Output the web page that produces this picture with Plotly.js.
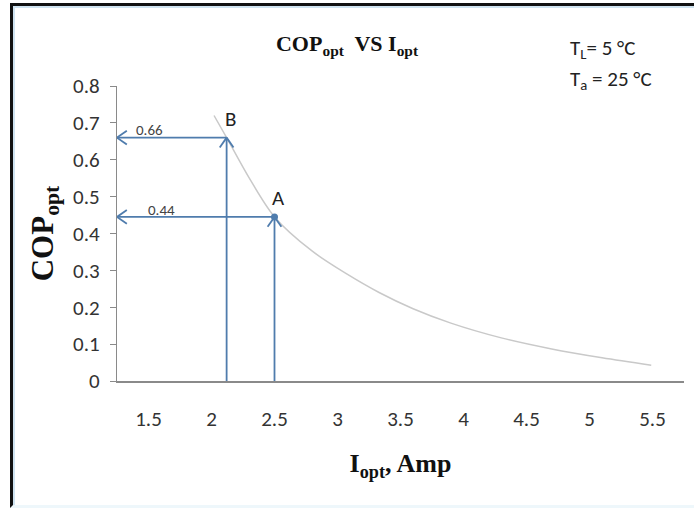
<!DOCTYPE html>
<html>
<head>
<meta charset="utf-8">
<script src="https://cdn.plot.ly/plotly-3.0.1.min.js"></script>
<style>
  html, body { margin: 0; padding: 0; background: #fff; }
  #wrap { position: relative; width: 694px; height: 508px; overflow: hidden; }
  #chart { position: absolute; left: 0; top: 0; width: 694px; height: 508px; }
  #frame { position: absolute; left: 10px; top: 3px; width: 684px; height: 499px;
           border-left: 3px solid #111; border-top: 3px solid #111;
           border-bottom: 3px solid #eef7fb;
           box-shadow: inset 2px 2px 0 #cfe3f0; pointer-events: none; }
</style>
</head>
<body>
<div id="wrap">
  <div id="chart"></div>
  <div id="frame"></div>
</div>
<script>
// ---- data ----
var currentAmp = [2.02, 2.12, 2.3, 2.5, 2.8, 3.07, 3.33, 3.6, 3.9, 4.3, 4.7, 5.1, 5.49];
var copOpt     = [0.72, 0.66, 0.55, 0.445, 0.352, 0.291, 0.240, 0.196, 0.157, 0.117, 0.087, 0.063, 0.043];
var xTickVals  = [1.5, 2, 2.5, 3, 3.5, 4, 4.5, 5, 5.5];
var xTickText  = ['1.5', '2', '2.5', '3', '3.5', '4', '4.5', '5', '5.5'];
var yTickVals  = [0, 0.1, 0.2, 0.3, 0.4, 0.5, 0.6, 0.7, 0.8];
var yTickText  = ['0', '0.1', '0.2', '0.3', '0.4', '0.5', '0.6', '0.7', '0.8'];
var pointNames = ['A', 'B'];
var pointX     = [2.5, 2.12];
var pointY     = [0.445, 0.66];
var pointLabel = ['0.44', '0.66'];

var xMin = 1.25, xMax = 5.75, yMin = 0, yMax = 0.8;
var W = 694, H = 508, M = { l: 117, r: 10, t: 86, b: 127 };
var plotW = W - M.l - M.r, plotH = H - M.t - M.b;
var pxX = plotW / (xMax - xMin), pxY = plotH / (yMax - yMin);

var arrowColor = '#4f7cad';
var sansFont = "Carlito, 'Liberation Sans Narrow', 'Liberation Sans', sans-serif";
var serifFont = "'Liberation Serif', 'Times New Roman', serif";

// shafts and V-shaped heads of the arrows, built from the point data
var shaftX = [], shaftY = [], headX = [], headY = [];
var armLen = 12, ang = 35 * Math.PI / 180;
function addHead(hx, hy, bx, by) {
  for (var s = -1; s <= 1; s += 2) {
    var c = Math.cos(s * ang), sn = Math.sin(s * ang);
    var rx = (bx * c - by * sn) * armLen, ry = (bx * sn + by * c) * armLen;
    headX.push(hx + rx / pxX, hx, null);
    headY.push(hy + ry / pxY, hy, null);
  }
}
for (var i = 0; i < pointNames.length; i++) {
  shaftX.push(pointX[i], xMin, null);
  shaftY.push(pointY[i], pointY[i], null);
  addHead(xMin, pointY[i], 1, 0);
  shaftX.push(pointX[i], pointX[i], null);
  shaftY.push(i === 1 ? -0.022 : 0, pointY[i], null);
  addHead(pointX[i], pointY[i], 0, -1);
}

var traces = [
  {
    x: currentAmp, y: copOpt, type: 'scatter', mode: 'lines',
    line: { color: '#c9c9c9', width: 1.5, shape: 'spline', smoothing: 0.9 },
    hoverinfo: 'skip', showlegend: false
  },
  {
    x: shaftX, y: shaftY, type: 'scatter', mode: 'lines', cliponaxis: false,
    line: { color: arrowColor, width: 1.8 }, hoverinfo: 'skip', showlegend: false
  },
  {
    x: headX, y: headY, type: 'scatter', mode: 'lines', cliponaxis: false,
    line: { color: arrowColor, width: 1.8 }, hoverinfo: 'skip', showlegend: false
  },
  {
    x: [pointX[0]], y: [pointY[0]], type: 'scatter', mode: 'markers',
    marker: { color: arrowColor, size: 7 },
    hoverinfo: 'skip', showlegend: false
  }
];

var annotations = [];
for (var j = 0; j < pointNames.length; j++) {
  annotations.push({
    x: pointX[j] + 0.03, y: pointY[j] + 0.05, xref: 'x', yref: 'y',
    text: pointNames[j], showarrow: false,
    font: { family: sansFont, size: 21, color: '#222' }
  });
  annotations.push({
    x: xMin + (j === 0 ? 0.35 : 0.26), y: pointY[j] + 0.02, xref: 'x', yref: 'y',
    text: pointLabel[j], showarrow: false,
    font: { family: sansFont, size: 15, color: '#444' }
  });
}
annotations.push(
  { x: 0.795, y: 1.125, xref: 'paper', yref: 'paper', xanchor: 'left', yanchor: 'middle',
    text: 'T<sub>L</sub>= 5 °C', showarrow: false,
    font: { family: sansFont, size: 21, color: '#222' } },
  { x: 0.795, y: 1.02, xref: 'paper', yref: 'paper', xanchor: 'left', yanchor: 'middle',
    text: 'T<sub>a</sub> = 25 °C', showarrow: false,
    font: { family: sansFont, size: 21, color: '#222' } }
);

var layout = {
  width: W, height: H, margin: M,
  paper_bgcolor: '#ffffff', plot_bgcolor: '#ffffff',
  showlegend: false,
  title: {
    text: '<b>COP<sub>opt</sub>  VS I<sub>opt</sub></b>',
    font: { family: serifFont, size: 22, color: '#111' },
    x: 0.5, xanchor: 'center', y: 0.915, yanchor: 'middle'
  },
  xaxis: {
    range: [xMin, xMax], tickvals: xTickVals, ticktext: xTickText,
    showgrid: false, zeroline: false, showline: true, linecolor: '#8a8a8a', linewidth: 1.5,
    ticks: 'outside', ticklen: 18, tickcolor: 'rgba(0,0,0,0)',
    tickfont: { family: sansFont, size: 21, color: '#333' },
    title: { text: '<b>I<sub>opt</sub>, Amp</b>', font: { family: serifFont, size: 26, color: '#111' }, standoff: 23 },
    fixedrange: true
  },
  yaxis: {
    range: [yMin, yMax], tickvals: yTickVals, ticktext: yTickText,
    showgrid: false, zeroline: false, showline: true, linecolor: '#8a8a8a', linewidth: 1.2,
    ticks: 'outside', ticklen: 6, tickcolor: '#8a8a8a',
    tickfont: { family: sansFont, size: 21, color: '#333' },
    ticklabelstandoff: 6,
    title: { text: '<b>COP<sub>opt</sub></b>', font: { family: serifFont, size: 31, color: '#111' }, standoff: 10 },
    fixedrange: true
  },
  annotations: annotations
};

Plotly.newPlot('chart', traces, layout, { displayModeBar: false, staticPlot: true });
</script>
</body>
</html>
